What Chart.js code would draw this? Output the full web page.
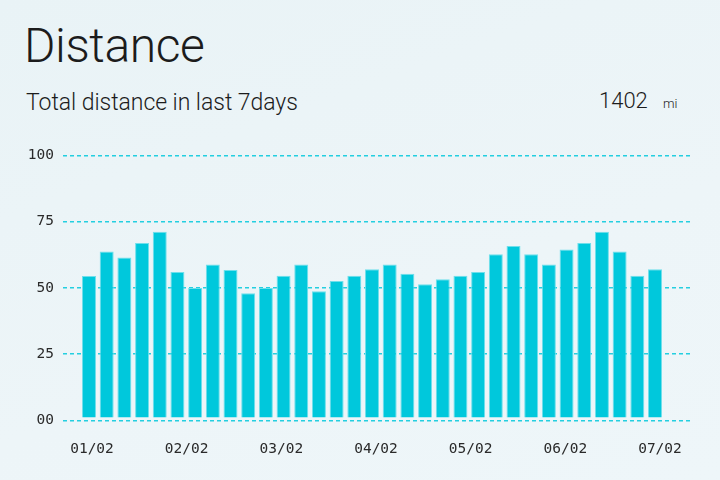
<!DOCTYPE html>
<html>
<head>
<meta charset="utf-8">
<script src="https://cdn.jsdelivr.net/npm/chart.js@4/dist/chart.umd.min.js"></script>
<style>
    html, body { margin: 0; padding: 0; }
    body {
        width: 720px; height: 480px; overflow: hidden; position: relative;
        background: linear-gradient(160deg, #e9f3f6 0%, #edf5f8 60%, #eef6f9 100%);
        font-family: Roboto, "Noto Sans", sans-serif; color: #1c1c1c;
    }
    .txt { position: absolute; line-height: 1; white-space: nowrap; font-weight: 300; }
    #title { left: 24px; top: 21.6px; font-size: 48px; letter-spacing: -0.4px; }
    #subtitle { left: 26px; top: 90.6px; font-size: 23px; letter-spacing: -0.05px; }
    #total { left: 599px; top: 89.8px; font-size: 22px; }
    #unit { left: 663px; top: 97.4px; font-size: 13px; }
    #wrap { position: absolute; left: 0; top: 0; width: 720px; height: 480px; }
</style>
</head>
<body>
<div class="txt" id="title">Distance</div>
<div class="txt" id="subtitle">Total distance in last 7days</div>
<div class="txt" id="total">1402</div>
<div class="txt" id="unit">mi</div>
<div id="wrap"><canvas id="distanceChart"></canvas></div>

<script>
// --- Dados ---
const distances = [54.5, 63.7, 61.5, 67, 71.2, 56, 50, 58.8, 56.8, 48,
    50, 54.6, 58.8, 48.7, 52.6, 54.6, 57, 58.8, 55.3, 51.4,
    53.3, 54.6, 56, 62.7, 65.8, 62.7, 58.8, 64.5, 67, 71.2,
    63.7, 54.6, 57];
const dayLabels = ['01/02', '02/02', '03/02', '04/02', '05/02', '06/02', '07/02'];
const yTickLabels = ['00', '25', '50', '75', '100'];

const cyan = '#00c8dc';
const monoFont = { family: '"DejaVu Sans Mono", monospace', size: 14.5 };

const ctx = document.getElementById('distanceChart').getContext('2d');

new Chart(ctx, {
    type: 'bar',
    data: {
        datasets: [{
            data: distances.map((v, i) => ({ x: i, y: v })),
            backgroundColor: cyan,
            borderColor: '#6fdfeb',
            borderWidth: 1,
            base: 1.1,
            categoryPercentage: 1,
            barPercentage: 0.79,
            xAxisID: 'x',
            yAxisID: 'y'
        }]
    },
    options: {
        responsive: true,
        maintainAspectRatio: false,
        animation: false,
        layout: { padding: { top: 155.5, right: 29, bottom: 19.7, left: 0 } },
        plugins: { legend: { display: false }, tooltip: { enabled: false } },
        scales: {
            x: {
                type: 'linear',
                display: false,
                offset: false,
                min: -1.47,
                max: 34.035
            },
            x2: {
                type: 'linear',
                position: 'bottom',
                offset: false,
                min: -0.3064,
                max: 6.3276,
                grid: { display: false, offset: false },
                border: { display: false },
                afterBuildTicks: (scale) => {
                    scale.ticks = dayLabels.map((_, i) => ({ value: i }));
                },
                afterFit: (scale) => { scale.height = 40; },
                ticks: {
                    autoSkip: false,
                    maxRotation: 0,
                    padding: 12,
                    color: '#2a2a2a',
                    font: monoFont,
                    callback: (v) => dayLabels[v]
                }
            },
            y: {
                min: 0,
                max: 100,
                afterFit: (scale) => { scale.width = 63; },
                grid: {
                    color: 'rgba(0, 200, 220, 0.85)',
                    lineWidth: 1.5,
                    drawTicks: false
                },
                border: { display: false, dash: [4, 3] },
                ticks: {
                    stepSize: 25,
                    padding: 9,
                    color: '#2a2a2a',
                    font: monoFont,
                    callback: (v) => yTickLabels[v / 25]
                }
            }
        }
    }
});
</script>
</body>
</html>
